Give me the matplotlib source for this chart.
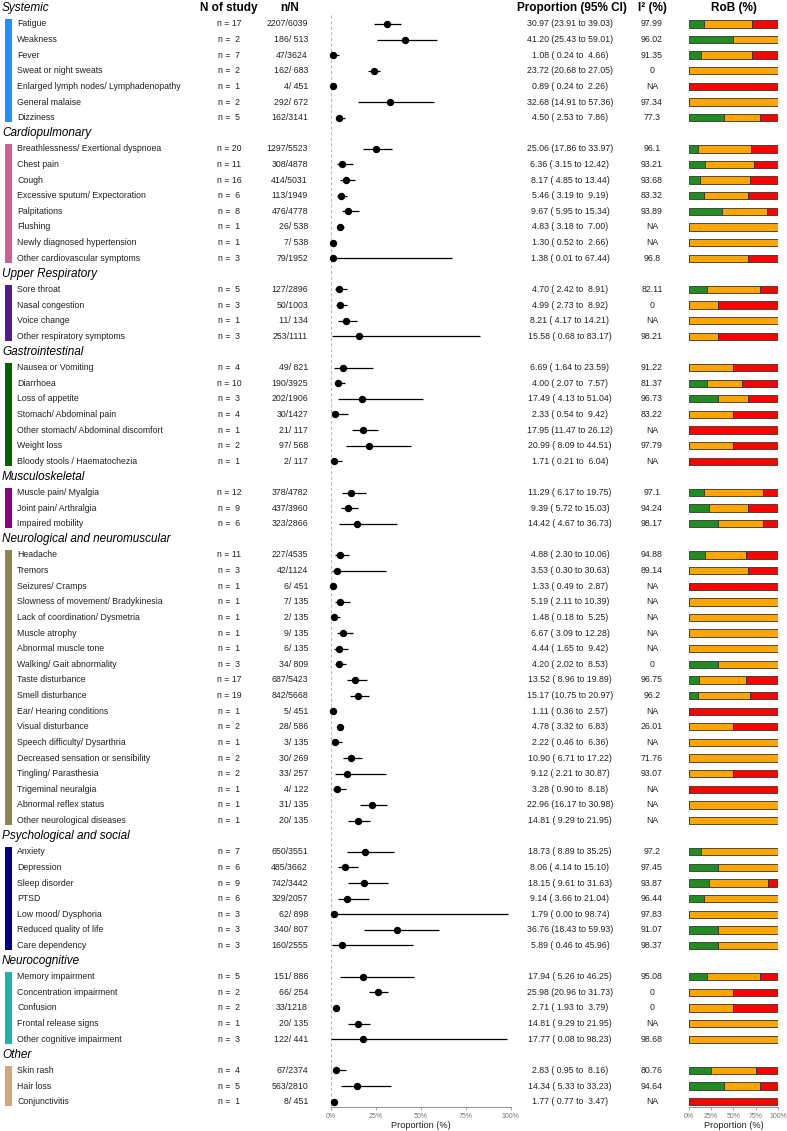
import matplotlib.pyplot as plt
import numpy as np

plt.rcParams['font.family'] = ['Liberation Sans', 'DejaVu Sans']

# ---- data ------------------------------------------------------------------
GROUPS = ['Systemic', 'Cardiopulmonary', 'Upper Respiratory', 'Gastrointestinal',
          'Musculoskeletal', 'Neurological and neuromuscular', 'Psychological and social',
          'Neurocognitive', 'Other']
GROUP_SIZES = [7, 8, 4, 7, 3, 18, 7, 5, 3]
GROUP_COLORS = ['#1E90FF', '#CD6090', '#551A8B', '#006400', '#8B008B',
                '#8B864E', '#000080', '#20B2AA', '#D2A679']

symptoms = [
    'Fatigue', 'Weakness', 'Fever', 'Sweat or night sweats',
    'Enlarged lymph nodes/ Lymphadenopathy', 'General malaise', 'Dizziness',
    'Breathlessness/ Exertional dyspnoea', 'Chest pain', 'Cough',
    'Excessive sputum/ Expectoration', 'Palpitations', 'Flushing',
    'Newly diagnosed hypertension', 'Other cardiovascular symptoms',
    'Sore throat', 'Nasal congestion', 'Voice change', 'Other respiratory symptoms',
    'Nausea or Vomiting', 'Diarrhoea', 'Loss of appetite', 'Stomach/ Abdominal pain',
    'Other stomach/ Abdominal discomfort', 'Weight loss', 'Bloody stools / Haematochezia',
    'Muscle pain/ Myalgia', 'Joint pain/ Arthralgia', 'Impaired mobility',
    'Headache', 'Tremors', 'Seizures/ Cramps', 'Slowness of movement/ Bradykinesia',
    'Lack of coordination/ Dysmetria', 'Muscle atrophy', 'Abnormal muscle tone',
    'Walking/ Gait abnormality', 'Taste disturbance', 'Smell disturbance',
    'Ear/ Hearing conditions', 'Visual disturbance', 'Speech difficulty/ Dysarthria',
    'Decreased sensation or sensibility', 'Tingling/ Parasthesia', 'Trigeminal neuralgia',
    'Abnormal reflex status', 'Other neurological diseases',
    'Anxiety', 'Depression', 'Sleep disorder', 'PTSD', 'Low mood/ Dysphoria',
    'Reduced quality of life', 'Care dependency',
    'Memory impairment', 'Concentration impairment', 'Confusion',
    'Frontal release signs', 'Other cognitive impairment',
    'Skin rash', 'Hair loss', 'Conjunctivitis',
]
n_study = [17, 2, 7, 2, 1, 2, 5,
           20, 11, 16, 6, 8, 1, 1, 3,
           5, 3, 1, 3,
           4, 10, 3, 4, 1, 2, 1,
           12, 9, 6,
           11, 3, 1, 1, 1, 1, 1, 3, 17, 19, 1, 2, 1, 2, 2, 1, 1, 1,
           7, 6, 9, 6, 3, 3, 3,
           5, 2, 2, 1, 3,
           4, 5, 1]
events = [2207, 186, 47, 162, 4, 292, 162,
          1297, 308, 414, 113, 476, 26, 7, 79,
          127, 50, 11, 253,
          49, 190, 202, 30, 21, 97, 2,
          378, 437, 323,
          227, 42, 6, 7, 2, 9, 6, 34, 687, 842, 5, 28, 3, 30, 33, 4, 31, 20,
          650, 485, 742, 329, 62, 340, 160,
          151, 66, 33, 20, 122,
          67, 563, 8]
totals = [6039, 513, 3624, 683, 451, 672, 3141,
          5523, 4878, 5031, 1949, 4778, 538, 538, 1952,
          2896, 1003, 134, 1111,
          821, 3925, 1906, 1427, 117, 568, 117,
          4782, 3960, 2866,
          4535, 1124, 451, 135, 135, 135, 135, 809, 5423, 5668, 451, 586, 135, 269, 257, 122, 135, 135,
          3551, 3662, 3442, 2057, 898, 807, 2555,
          886, 254, 1218, 135, 441,
          2374, 2810, 451]
est = [30.97, 41.20, 1.08, 23.72, 0.89, 32.68, 4.50,
       25.06, 6.36, 8.17, 5.46, 9.67, 4.83, 1.30, 1.38,
       4.70, 4.99, 8.21, 15.58,
       6.69, 4.00, 17.49, 2.33, 17.95, 20.99, 1.71,
       11.29, 9.39, 14.42,
       4.88, 3.53, 1.33, 5.19, 1.48, 6.67, 4.44, 4.20, 13.52, 15.17, 1.11, 4.78, 2.22,
       10.90, 9.12, 3.28, 22.96, 14.81,
       18.73, 8.06, 18.15, 9.14, 1.79, 36.76, 5.89,
       17.94, 25.98, 2.71, 14.81, 17.77,
       2.83, 14.34, 1.77]
ci_low = [23.91, 25.43, 0.24, 20.68, 0.24, 14.91, 2.53,
          17.86, 3.15, 4.85, 3.19, 5.95, 3.18, 0.52, 0.01,
          2.42, 2.73, 4.17, 0.68,
          1.64, 2.07, 4.13, 0.54, 11.47, 8.09, 0.21,
          6.17, 5.72, 4.67,
          2.30, 0.30, 0.49, 2.11, 0.18, 3.09, 1.65, 2.02, 8.96, 10.75, 0.36, 3.32, 0.46,
          6.71, 2.21, 0.90, 16.17, 9.29,
          8.89, 4.14, 9.61, 3.66, 0.00, 18.43, 0.46,
          5.26, 20.96, 1.93, 9.29, 0.08,
          0.95, 5.33, 0.77]
ci_high = [39.03, 59.01, 4.66, 27.05, 2.26, 57.36, 7.86,
           33.97, 12.42, 13.44, 9.19, 15.34, 7.00, 2.66, 67.44,
           8.91, 8.92, 14.21, 83.17,
           23.59, 7.57, 51.04, 9.42, 26.12, 44.51, 6.04,
           19.75, 15.03, 36.73,
           10.06, 30.63, 2.87, 10.39, 5.25, 12.28, 9.42, 8.53, 19.89, 20.97, 2.57, 6.83, 6.36,
           17.22, 30.87, 8.18, 30.98, 21.95,
           35.25, 15.10, 31.63, 21.04, 98.74, 59.93, 45.96,
           46.25, 31.73, 3.79, 21.95, 98.23,
           8.16, 33.23, 3.47]
i2 = [97.99, 96.02, 91.35, 0, None, 97.34, 77.3,
      96.1, 93.21, 93.68, 83.32, 93.89, None, None, 96.8,
      82.11, 0, None, 98.21,
      91.22, 81.37, 96.73, 83.22, None, 97.79, None,
      97.1, 94.24, 98.17,
      94.88, 89.14, None, None, None, None, None, 0, 96.75, 96.2, None, 26.01, None,
      71.76, 93.07, None, None, None,
      97.2, 97.45, 93.87, 96.44, 97.83, 91.07, 98.37,
      95.08, 0, 0, None, 98.68,
      80.76, 94.64, None]
# risk of bias: number of studies rated low / some concerns / high
rob_low = [3, 1, 1, 0, 0, 0, 2,
           2, 2, 2, 1, 3, 0, 0, 0,
           1, 0, 0, 0,
           0, 2, 1, 0, 0, 0, 0,
           2, 2, 2,
           2, 0, 0, 0, 0, 0, 0, 1, 2, 2, 0, 0, 0, 0, 0, 0, 0, 0,
           1, 2, 2, 1, 0, 1, 1,
           1, 0, 0, 0, 0,
           1, 2, 0]
rob_some = [9, 1, 4, 2, 0, 2, 2,
            12, 6, 9, 3, 4, 1, 1, 2,
            3, 1, 1, 1,
            2, 4, 1, 2, 0, 1, 0,
            8, 4, 3,
            5, 2, 0, 1, 1, 1, 1, 2, 9, 11, 0, 1, 1, 2, 1, 0, 1, 1,
            6, 4, 6, 5, 3, 2, 2,
            3, 1, 1, 1, 3,
            2, 2, 0]
rob_high = [5, 0, 2, 0, 1, 0, 1,
            6, 3, 5, 2, 1, 0, 0, 1,
            1, 2, 0, 2,
            2, 4, 1, 2, 1, 1, 1,
            2, 3, 1,
            4, 1, 1, 0, 0, 0, 0, 0, 6, 6, 1, 1, 0, 0, 1, 1, 0, 0,
            0, 0, 1, 0, 0, 0, 0,
            1, 1, 1, 0, 0,
            1, 1, 1]

# ---- row layout --------------------------------------------------------------
head_rows, item_rows, item_color = [], [], []
r = 0
for size, col in zip(GROUP_SIZES, GROUP_COLORS):
    head_rows.append(r)
    r += 1
    item_rows.extend(range(r, r + size))
    item_color.extend([col] * size)
    r += size
y = np.array(item_rows)

W, H = 787, 1131
ROW0, ROWH, AX_BOTTOM = 8.3, 15.62, 1107
ylim = ((AX_BOTTOM - ROW0) / ROWH, -ROW0 / ROWH)
TXT = '#222222'
FS = 6.3

fig = plt.figure(figsize=(W / 100, H / 100), dpi=100)


def add_ax(x0, x1):
    a = fig.add_axes([x0 / W, 1 - AX_BOTTOM / H, (x1 - x0) / W, AX_BOTTOM / H])
    a.set_ylim(*ylim)
    a.patch.set_alpha(0)
    return a


# ---- text columns ------------------------------------------------------------
ax_t = add_ax(0, W)
ax_t.set_xlim(0, W)
ax_t.axis('off')

for hr, g in zip(head_rows, GROUPS):
    ax_t.text(2, hr, g, fontsize=8.5, style='italic', va='center', ha='left')
start = 0
for hr, size, col in zip(head_rows, GROUP_SIZES, GROUP_COLORS):
    ax_t.bar(8.5, height=size - 1 + 0.6, bottom=hr + 1 - 0.3, width=6.5, color=col)

for col_x, lab in [(229, 'N of study'), (290, 'n/N'), (572, 'Proportion (95% CI)'),
                   (652, 'I² (%)'), (733.5, 'RoB (%)')]:
    ax_t.text(col_x, 0, lab, fontsize=8.5, fontweight='bold', ha='center', va='center')

for k, yy in enumerate(y):
    ax_t.text(17, yy, symptoms[k], fontsize=FS, color=TXT, va='center')
    ax_t.text(229, yy, f'n = {n_study[k]:>2}', fontsize=FS, color=TXT, va='center', ha='center')
    ax_t.text(308, yy, f'{events[k]}/{totals[k]:>4}', fontsize=FS, color=TXT, va='center', ha='right')
    ax_t.text(570, yy, f'{est[k]:.2f} ({ci_low[k]:5.2f} to {ci_high[k]:5.2f})',
              fontsize=FS, color=TXT, va='center', ha='center')
    txt_i2 = 'NA' if i2[k] is None else f'{i2[k]:g}'
    ax_t.text(652, yy, txt_i2, fontsize=FS, color=TXT, va='center', ha='center')


def style_axis(a):
    for s in ['top', 'left', 'right']:
        a.spines[s].set_visible(False)
    a.spines['bottom'].set_color('#999999')
    a.spines['bottom'].set_linewidth(0.8)
    a.set_yticks([])
    a.set_xticks([0, 25, 50, 75, 100])
    a.set_xticklabels(['0%', '25%', '50%', '75%', '100%'])
    a.tick_params(axis='x', colors='#999999', labelcolor='#777777', labelsize=5,
                  length=2.5, width=0.6, pad=1.5)
    a.set_xlabel('Proportion (%)', fontsize=FS + 0.3, color=TXT, labelpad=1)


# ---- forest plot ---------------------------------------------------------------
ax_f = add_ax(331, 510.5)
ax_f.set_xlim(0, 100)
ax_f.vlines([0, 100], 0.45, ylim[0], colors='#BBBBBB', linestyles=(0, (3, 2)), lw=0.8)
ax_f.hlines(y, ci_low, ci_high, color='black', lw=0.9, clip_on=False)
ax_f.plot(est, y, 'o', color='black', ms=4.3, clip_on=False)
style_axis(ax_f)

# ---- risk of bias bars -------------------------------------------------------
ax_r = add_ax(688.7, 778)
ax_r.set_xlim(0, 100)
lo = np.array(rob_low, float)
so = np.array(rob_some, float)
hi = np.array(rob_high, float)
tot = lo + so + hi
p_lo, p_so, p_hi = lo / tot * 100, so / tot * 100, hi / tot * 100
kw = dict(height=0.47, edgecolor='#333333', linewidth=0.6)
ax_r.barh(y, p_lo, color='#228B22', **kw)
ax_r.barh(y, p_so, left=p_lo, color='#FFA500', **kw)
ax_r.barh(y, p_hi, left=p_lo + p_so, color='#FF0000', **kw)
style_axis(ax_r)

fig.savefig('out.png', dpi=100)
